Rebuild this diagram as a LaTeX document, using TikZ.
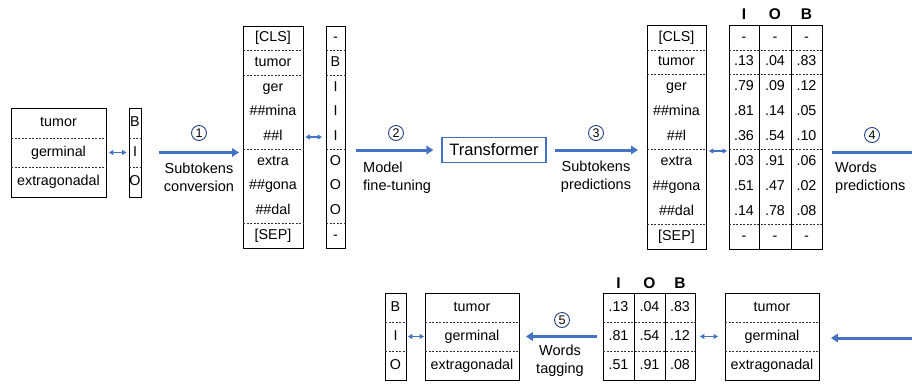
\documentclass[tikz,border=0pt]{standalone}
\usepackage{fontspec}
\setmainfont{Liberation Sans}
\usetikzlibrary{arrows.meta,calc}
\definecolor{arrblue}{HTML}{4472C4}
\definecolor{numblue}{HTML}{1F3F7F}
\begin{document}
\begin{tikzpicture}[x=1pt,y=-1pt,
  box/.style={draw=black, line width=0.9pt, inner sep=0pt, anchor=north west},
  cell/.style={inner sep=0pt, text height=10.2pt, text depth=3pt, font=\fontsize{14.3}{17}\selectfont},
  sep/.style={draw=black!80, line width=0.7pt, dash pattern=on 2pt off 1.5pt},
  bigarrow/.style={draw=arrblue, line width=3pt, -{Triangle[length=7pt,width=8.5pt]}},
  bigline/.style={draw=arrblue, line width=3pt},
  dbl/.style={draw=arrblue, line width=1.3pt, {Triangle[length=4.5pt,width=5pt]}-{Triangle[length=4.5pt,width=5pt]}},
  num/.style={circle, draw=numblue, line width=0.9pt, inner sep=0pt, minimum size=15pt, font=\fontsize{12.5}{12.5}\selectfont},
  lbl/.style={inner sep=0pt, font=\fontsize{14.5}{18}\selectfont},
  hdr/.style={font=\bfseries\fontsize{15.5}{15.5}\selectfont, inner sep=0pt, text height=11pt, text depth=0pt}
]
\useasboundingbox (0,0) rectangle (912,383);

% ---------- top row ----------
% words box
\node[box, minimum width=95pt, minimum height=89pt] (W1) at (11,108) {};
\draw[sep] (11,138) -- (106,138);
\draw[sep] (11,167) -- (106,167);
\node[cell] (w1a) at (58.5,123) {tumor};
\node[cell] (w1b) at (58.5,152.5) {germinal};
\node[cell] (w1c) at (58.5,182) {extragonadal};
% BIO labels
\node[box, minimum width=12pt, minimum height=89pt] (L1) at (129,108) {};
\draw[sep] (129,138) -- (141,138);
\draw[sep] (129,167) -- (141,167);
\node[cell] (l1a) at (135,123) {B};
\node[cell] (l1b) at (135,152.5) {I};
\node[cell] (l1c) at (135,182) {O};
\draw[dbl, shorten <=2pt, shorten >=2.5pt] (w1b -| W1.east) -- (w1b -| L1.west);

% subtokens box
\node[box, minimum width=60pt, minimum height=222pt] (S1) at (243,26) {};
\foreach \yy in {50.7,75.3,149.7,223.3} {
  \draw[sep] (243,\yy) -- (303,\yy);
  \draw[sep] (326,\yy) -- (345,\yy);
}
\node[cell] (s1a) at (273,38.3) {[CLS]};
\node[cell] (s1b) at (273,63) {tumor};
\node[cell] (s1c) at (273,87.7) {ger};
\node[cell] (s1d) at (273,112.3) {\#\#mina};
\node[cell] (s1e) at (273,137) {\#\#l};
\node[cell] (s1f) at (273,161.7) {extra};
\node[cell] (s1g) at (273,186.3) {\#\#gona};
\node[cell] (s1h) at (273,211) {\#\#dal};
\node[cell] (s1i) at (273,235.7) {[SEP]};
% subtoken labels
\node[box, minimum width=19pt, minimum height=222pt] (L2) at (326,26) {};
\node[cell] (l2a) at (335.5,38.3) {-};
\node[cell] (l2b) at (335.5,63) {B};
\node[cell] (l2c) at (335.5,87.7) {I};
\node[cell] (l2d) at (335.5,112.3) {I};
\node[cell] (l2e) at (335.5,137) {I};
\node[cell] (l2f) at (335.5,161.7) {O};
\node[cell] (l2g) at (335.5,186.3) {O};
\node[cell] (l2h) at (335.5,211) {O};
\node[cell] (l2i) at (335.5,235.7) {-};
\draw[dbl, shorten <=1.5pt, shorten >=4pt] (s1e -| S1.east) -- (s1e -| L2.west);

% step 1
\draw[bigarrow, shorten <=17pt, shorten >=4pt] (w1b -| L1.east) -- (w1b -| S1.west);
\node[num] (n1) at (199,133) {1};
\node[lbl, align=center] (t1) at (199,177) {Subtokens\\conversion};

% transformer
\node[draw=arrblue, line width=1.2pt, minimum width=104pt, minimum height=25pt, inner sep=0pt,
      font=\fontsize{16.5}{16.5}\selectfont] (T) at (494,150) {Transformer};

% step 2
\draw[bigarrow, shorten <=10pt, shorten >=8pt] (T.west -| L2.east) -- (T.west);
\node[num] (n2) at (396,133) {2};
\node[lbl, align=left, anchor=west] (t2) at (363,178) {Model\\fine-tuning};

% second subtokens box
\node[box, minimum width=59pt, minimum height=224pt] (S2) at (647,25) {};
\node[box, minimum width=93pt, minimum height=224pt] (P) at (729,25) {};
\draw[line width=0.9pt] (759,25) -- (759,249);
\draw[line width=0.9pt] (791,25) -- (791,249);
\foreach \yy in {49.9,74.8,149.4,224.1} {
  \draw[sep] (647,\yy) -- (706,\yy);
  \draw[sep] (729,\yy) -- (822,\yy);
}
\node[cell] (s2a) at (676.5,37.4) {[CLS]};
\node[cell] (s2b) at (676.5,62.3) {tumor};
\node[cell] (s2c) at (676.5,87.2) {ger};
\node[cell] (s2d) at (676.5,112.1) {\#\#mina};
\node[cell] (s2e) at (676.5,137) {\#\#l};
\node[cell] (s2f) at (676.5,161.9) {extra};
\node[cell] (s2g) at (676.5,186.8) {\#\#gona};
\node[cell] (s2h) at (676.5,211.7) {\#\#dal};
\node[cell] (s2i) at (676.5,236.6) {[SEP]};
\node[hdr] (hI) at (744,14) {I};
\node[hdr] (hO) at (775,14) {O};
\node[hdr] (hB) at (806.5,14) {B};
\foreach \r/\yy/\a/\b/\c in {a/37.4/-/-/-, b/62.3/.13/.04/.83, c/87.2/.79/.09/.12, d/112.1/.81/.14/.05,
  e/137/.36/.54/.10, f/161.9/.03/.91/.06, g/186.8/.51/.47/.02, h/211.7/.14/.78/.08, i/236.6/-/-/-} {
  \node[cell] (p\r1) at (744,\yy) {\a};
  \node[cell] (p\r2) at (775,\yy) {\b};
  \node[cell] (p\r3) at (806.5,\yy) {\c};
}
\coordinate (d3) at (717,151);
\draw[dbl, shorten <=2pt, shorten >=2pt] (d3 -| S2.east) -- (d3 -| P.west);

% step 3
\draw[bigarrow, shorten <=8pt, shorten >=9pt] (T.east) -- (T.east -| S2.west);
\node[num] (n3) at (596,133) {3};
\node[lbl, align=center] (t3) at (596,177) {Subtokens\\predictions};

% step 4
\coordinate (e4) at (916,152);
\draw[bigline, shorten <=9pt] (e4 -| P.east) -- (e4);
\node[num] (n4) at (872,135) {4};
\node[lbl, align=left, anchor=west] (t4) at (835,178) {Words\\predictions};

% ---------- bottom row ----------
\node[box, minimum width=21pt, minimum height=87pt] (L3) at (385,293) {};
\node[box, minimum width=94pt, minimum height=87pt] (W2) at (425,293) {};
\node[box, minimum width=92pt, minimum height=87pt] (P2) at (603,293) {};
\node[box, minimum width=94pt, minimum height=87pt] (W3) at (725,293) {};
\draw[line width=0.9pt] (634,293) -- (634,380);
\draw[line width=0.9pt] (665,293) -- (665,380);
\foreach \yy in {322,351} {
  \draw[sep] (385,\yy) -- (406,\yy);
  \draw[sep] (425,\yy) -- (519,\yy);
  \draw[sep] (603,\yy) -- (695,\yy);
  \draw[sep] (725,\yy) -- (819,\yy);
}
\node[cell] (l3a) at (395.5,307.5) {B};
\node[cell] (l3b) at (395.5,336.5) {I};
\node[cell] (l3c) at (395.5,365.5) {O};
\node[cell] (w2a) at (472,307.5) {tumor};
\node[cell] (w2b) at (472,336.5) {germinal};
\node[cell] (w2c) at (472,365.5) {extragonadal};
\node[cell] (w3a) at (772,307.5) {tumor};
\node[cell] (w3b) at (772,336.5) {germinal};
\node[cell] (w3c) at (772,365.5) {extragonadal};
\node[hdr] (gI) at (618.5,283) {I};
\node[hdr] (gO) at (649.5,283) {O};
\node[hdr] (gB) at (680,283) {B};
\foreach \r/\yy/\a/\b/\c in {a/307.5/.13/.04/.83, b/336.5/.81/.54/.12, c/365.5/.51/.91/.08} {
  \node[cell] (q\r1) at (618.5,\yy) {\a};
  \node[cell] (q\r2) at (649.5,\yy) {\b};
  \node[cell] (q\r3) at (680,\yy) {\c};
}
% arrow from the right
\coordinate (e6) at (916,338);
\draw[bigarrow, shorten >=11pt] (e6) -- (e6 -| W3.east);
\draw[dbl, shorten <=4pt, shorten >=7pt] (w3b -| P2.east) -- (w3b -| W3.west);
% step 5
\draw[bigarrow, shorten <=6pt, shorten >=6pt] (w2b -| P2.west) -- (w2b -| W2.east);
\node[num] (n5) at (562,320) {5};
\node[lbl, align=center] (t5) at (560,361) {Words\\tagging};
\draw[dbl, shorten <=1pt, shorten >=1pt] (w2b -| W2.west) -- (w2b -| L3.east);
\end{tikzpicture}
\end{document}
